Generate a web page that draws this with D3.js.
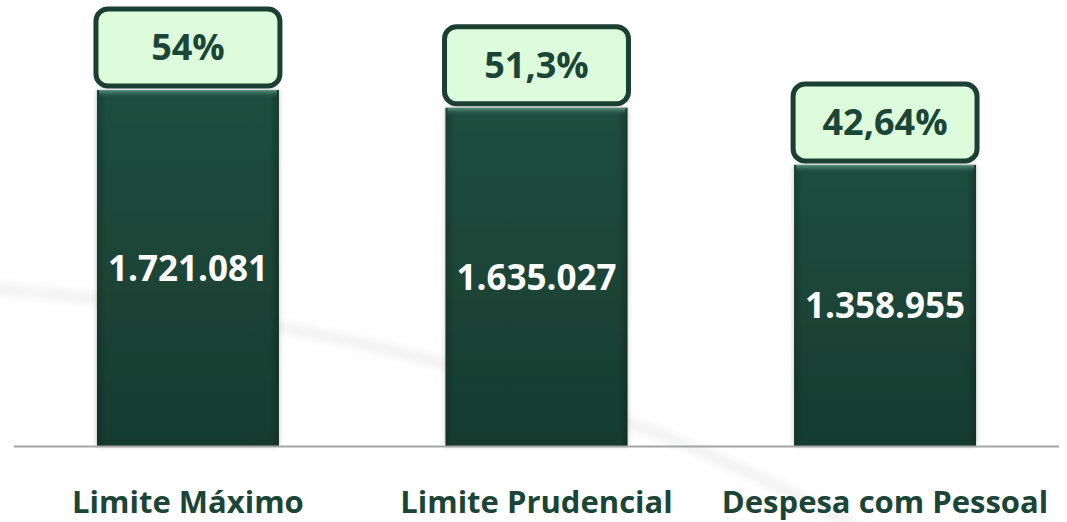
<!DOCTYPE html>
<html>
<head>
<meta charset="utf-8">
<script src="https://cdn.jsdelivr.net/npm/d3@7"></script>
<style>
  html, body { margin: 0; padding: 0; background: #fff; }
  svg { display: block; }
  text { font-family: "Open Sans", "Noto Sans", sans-serif; font-weight: bold; }
</style>
</head>
<body>
<svg id="chart" width="1067" height="522"></svg>
<script>
// chart data
var categories = ["Limite Máximo", "Limite Prudencial", "Despesa com Pessoal"];
var values = [1721081, 1635027, 1358955];
var percents = [54, 51.3, 42.64];

var width = 1067, height = 522;
var baseY = 446;

var ptBR = d3.formatLocale({decimal: ",", thousands: ".", grouping: [3], currency: ["R$", ""]});
var fmtValue = ptBR.format(",d");
var fmtPct = ptBR.format("~f");

var svg = d3.select("#chart");
var defs = svg.append("defs");

// bar gradient
var g1 = defs.append("linearGradient").attr("id", "barGrad")
  .attr("x1", 0).attr("y1", 0).attr("x2", 0).attr("y2", 1);
g1.append("stop").attr("offset", "0%").attr("stop-color", "#1f4e3f");
g1.append("stop").attr("offset", "100%").attr("stop-color", "#173b2f");

// side shading for a soft bevel
var g2 = defs.append("linearGradient").attr("id", "sideGrad")
  .attr("x1", 0).attr("y1", 0).attr("x2", 1).attr("y2", 0);
g2.append("stop").attr("offset", "0%").attr("stop-color", "#0d2219").attr("stop-opacity", 0.35);
g2.append("stop").attr("offset", "5%").attr("stop-color", "#0d2219").attr("stop-opacity", 0);
g2.append("stop").attr("offset", "95%").attr("stop-color", "#0d2219").attr("stop-opacity", 0);
g2.append("stop").attr("offset", "100%").attr("stop-color", "#0d2219").attr("stop-opacity", 0.45);

var g3 = defs.append("linearGradient").attr("id", "topGrad")
  .attr("x1", 0).attr("y1", 0).attr("x2", 0).attr("y2", 1);
g3.append("stop").attr("offset", "0%").attr("stop-color", "#5f9784");
g3.append("stop").attr("offset", "100%").attr("stop-color", "#1f4e3f").attr("stop-opacity", 0);

var shadow = defs.append("filter").attr("id", "shadow")
  .attr("x", "-10%").attr("y", "-10%").attr("width", "120%").attr("height", "120%");
shadow.append("feDropShadow").attr("dx", 0).attr("dy", 0).attr("stdDeviation", 2.5)
  .attr("flood-color", "#000").attr("flood-opacity", 0.25);

var blur = defs.append("filter").attr("id", "blur");
blur.append("feGaussianBlur").attr("stdDeviation", 5);

// faint background swoosh
svg.append("path")
  .attr("d", "M-10,288 C300,315 600,380 880,540")
  .attr("fill", "none")
  .attr("stroke", "#eff1ef")
  .attr("stroke-width", 10)
  .attr("filter", "url(#blur)");

var x = d3.scaleBand()
  .domain(categories)
  .range([14, 1059])
  .paddingInner(0.478)
  .paddingOuter(0.238);

var y = d3.scaleLinear()
  .domain([0, d3.max(values)])
  .range([baseY, 90]);

var data = categories.map(function(c, i) {
  return {cat: c, value: values[i], pct: percents[i]};
});

var bars = svg.selectAll(".bar")
  .data(data)
  .enter()
  .append("g")
  .attr("class", "bar");

bars.append("rect")
  .attr("x", function(d) { return x(d.cat); })
  .attr("y", function(d) { return y(d.value); })
  .attr("width", x.bandwidth())
  .attr("height", function(d) { return baseY - y(d.value); })
  .attr("fill", "url(#barGrad)")
  .attr("filter", "url(#shadow)");

bars.append("rect")
  .attr("x", function(d) { return x(d.cat); })
  .attr("y", function(d) { return y(d.value); })
  .attr("width", x.bandwidth())
  .attr("height", function(d) { return baseY - y(d.value); })
  .attr("fill", "url(#sideGrad)");

bars.append("rect")
  .attr("x", function(d) { return x(d.cat) + 2; })
  .attr("y", function(d) { return y(d.value); })
  .attr("width", x.bandwidth() - 4)
  .attr("height", 8)
  .attr("fill", "url(#topGrad)");

// baseline
svg.append("line")
  .attr("x1", 14).attr("x2", 1059)
  .attr("y1", baseY + 0.5).attr("y2", baseY + 0.5)
  .attr("stroke", "#a3a6a4")
  .attr("stroke-width", 2);

// value labels inside bars
bars.append("text")
  .attr("x", function(d) { return x(d.cat) + x.bandwidth() / 2; })
  .attr("y", function(d) { return (y(d.value) + baseY) / 2; })
  .attr("dy", "0.36em")
  .attr("text-anchor", "middle")
  .attr("fill", "#ffffff")
  .style("font-size", "35px")
  .text(function(d) { return fmtValue(d.value); });

// percent boxes
var boxH = 77, boxGap = 4;
bars.append("rect")
  .attr("x", function(d) { return x(d.cat) - 1; })
  .attr("y", function(d) { return y(d.value) - boxGap - boxH; })
  .attr("width", x.bandwidth() + 2)
  .attr("height", boxH)
  .attr("rx", 12)
  .attr("fill", "#dcfcdc")
  .attr("stroke", "#1b3f32")
  .attr("stroke-width", 5);

bars.append("text")
  .attr("x", function(d) { return x(d.cat) + x.bandwidth() / 2; })
  .attr("y", function(d) { return y(d.value) - boxGap - boxH / 2; })
  .attr("dy", "0.36em")
  .attr("text-anchor", "middle")
  .attr("fill", "#1b4536")
  .style("font-size", "36px")
  .text(function(d) { return fmtPct(d.pct) + "%"; });

// category labels
svg.selectAll(".cat")
  .data(categories)
  .enter()
  .append("text")
  .attr("class", "cat")
  .attr("x", function(d) { return x(d) + x.bandwidth() / 2; })
  .attr("y", 513)
  .attr("text-anchor", "middle")
  .attr("fill", "#1b4536")
  .style("font-size", "31px")
  .text(function(d) { return d; });
</script>
</body>
</html>
